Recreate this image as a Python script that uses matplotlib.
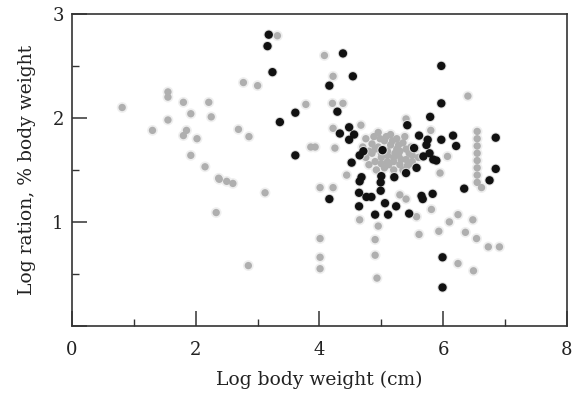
import numpy as np
import matplotlib.pyplot as plt
from matplotlib.ticker import MultipleLocator

# grey points (log body weight, log ration)
grey_x = [0.81, 1.55, 1.55, 1.80, 2.21, 1.92, 2.25, 1.55, 1.30, 1.85, 1.80, 2.02,
          1.92, 2.15, 2.37, 2.33, 2.77, 3.00, 2.69, 2.86, 2.38, 2.50, 2.60, 3.12,
          2.85, 3.32, 3.78, 3.86, 3.93,
          4.08, 4.22, 4.21, 4.38, 4.22, 4.67, 4.95, 5.40, 5.80, 6.40, 4.25,
          4.01, 4.01, 4.01, 4.01, 4.22, 4.44,
          6.55, 6.55, 6.55, 6.55, 6.55, 6.55, 6.55, 6.55, 6.62,
          6.07, 5.95,
          4.65, 4.95, 4.90, 4.90, 4.93, 5.61, 5.81, 5.93, 6.10, 6.24, 6.48, 6.36,
          6.54, 6.24, 6.49, 5.57, 6.73, 6.91, 5.30, 5.40,
          4.75, 4.85, 4.95, 5.05, 5.15, 5.25, 5.35, 5.45, 5.20, 5.10, 5.00, 4.90,
          4.80, 4.75, 5.30, 5.40, 5.50, 5.20, 5.05, 4.92, 5.35, 5.60, 5.15, 5.25,
          4.85, 5.48, 5.10, 5.28,
          4.80, 4.90, 5.00, 5.10, 5.20, 5.30, 5.40, 5.50, 4.88, 4.98, 5.08, 5.18,
          5.28, 5.38, 5.46, 4.70, 5.55, 5.00, 5.12, 5.22, 5.32, 5.42]
grey_y = [2.10, 2.25, 2.20, 2.15, 2.15, 2.04, 2.01, 1.98, 1.88, 1.88, 1.83, 1.80,
          1.64, 1.53, 1.42, 1.09, 2.34, 2.31, 1.89, 1.82, 1.41, 1.39, 1.37, 1.28,
          0.58, 2.79, 2.13, 1.72, 1.72,
          2.60, 2.40, 2.14, 2.14, 1.90, 1.93, 1.86, 1.99, 1.88, 2.21, 1.71,
          1.33, 0.84, 0.66, 0.55, 1.33, 1.45,
          1.87, 1.80, 1.73, 1.66, 1.59, 1.52, 1.45, 1.38, 1.33,
          1.63, 1.47,
          1.02, 0.96, 0.83, 0.68, 0.46, 0.88, 1.12, 0.91, 1.00, 1.07, 1.02, 0.90,
          0.84, 0.60, 0.53, 1.05, 0.76, 0.76, 1.26, 1.22,
          1.80, 1.75, 1.72, 1.78, 1.74, 1.70, 1.76, 1.66, 1.62, 1.58, 1.62, 1.58,
          1.55, 1.62, 1.55, 1.60, 1.58, 1.50, 1.52, 1.50, 1.50, 1.62, 1.84, 1.80,
          1.66, 1.72, 1.68, 1.64,
          1.68, 1.70, 1.66, 1.64, 1.58, 1.68, 1.70, 1.64, 1.82, 1.80, 1.82, 1.78,
          1.74, 1.82, 1.56, 1.72, 1.70, 1.56, 1.55, 1.66, 1.60, 1.54]

# black points
black_x = [3.18, 3.16, 3.24, 3.61, 3.36, 3.61, 4.16, 4.16, 4.38, 4.54, 4.29, 5.97,
           5.97, 5.79, 5.42, 4.48, 4.33, 4.56, 4.48, 5.61, 5.75, 5.97, 6.16, 6.21,
           6.85, 6.85, 6.75, 6.34, 5.53, 5.73, 5.78, 5.84, 5.68, 5.89, 5.02, 4.71,
           4.65, 4.52, 5.57, 5.40, 5.21, 5.00, 4.68, 4.65, 4.99, 4.64, 4.76, 4.99,
           5.67, 5.83, 4.64, 4.90, 5.11, 5.24, 5.45, 5.06, 5.99, 5.99, 4.84, 5.65]
black_y = [2.80, 2.69, 2.44, 2.05, 1.96, 1.64, 2.31, 1.22, 2.62, 2.40, 2.06, 2.50,
           2.14, 2.01, 1.93, 1.91, 1.85, 1.84, 1.79, 1.83, 1.79, 1.79, 1.83, 1.73,
           1.81, 1.51, 1.40, 1.32, 1.71, 1.74, 1.66, 1.60, 1.63, 1.59, 1.69, 1.68,
           1.64, 1.57, 1.52, 1.47, 1.43, 1.44, 1.43, 1.39, 1.38, 1.28, 1.24, 1.30,
           1.22, 1.27, 1.15, 1.07, 1.07, 1.15, 1.08, 1.18, 0.66, 0.37, 1.24, 1.25]

plt.rcParams['font.family'] = 'DejaVu Serif'

fig = plt.figure(figsize=(5.72, 3.97), dpi=100)
ax = fig.add_axes([0.126, 0.179, 0.865, 0.786])

# soft halo + core, to mimic the blurry print
ax.scatter(grey_x, grey_y, s=60, color='#efefef', edgecolors='none', zorder=1)
ax.scatter(grey_x, grey_y, s=28, color='#afafaf', edgecolors='none', zorder=2)
ax.scatter(black_x, black_y, s=55, color='#dddddd', edgecolors='none', zorder=3)
ax.scatter(black_x, black_y, s=36, color='#111111', edgecolors='none', zorder=4)

ax.set_xlim(0, 8)
ax.set_ylim(0, 3)
ax.xaxis.set_major_locator(MultipleLocator(2))
ax.xaxis.set_minor_locator(MultipleLocator(1))
ax.yaxis.set_major_locator(MultipleLocator(1))
ax.yaxis.set_minor_locator(MultipleLocator(0.5))
ax.set_yticks([0, 1, 2, 3])
ax.set_yticklabels(['', '1', '2', '3'])

ax.tick_params(which='both', direction='in', colors='#333333', labelcolor='#222222',
               labelsize=13)
ax.tick_params(which='major', length=11, width=1.1)
ax.tick_params(which='minor', length=5, width=1.0)
ax.tick_params(axis='x', which='major', pad=11)
ax.tick_params(axis='y', which='major', pad=6)

for sp in ax.spines.values():
    sp.set_color('#333333')
    sp.set_linewidth(1.2)

ax.set_xlabel('Log body weight (cm)', fontsize=13.5, color='#222222', labelpad=8)
ax.set_ylabel('Log ration, % body weight', fontsize=13.5, color='#222222', labelpad=12)

fig.savefig('out.png', dpi=100)
